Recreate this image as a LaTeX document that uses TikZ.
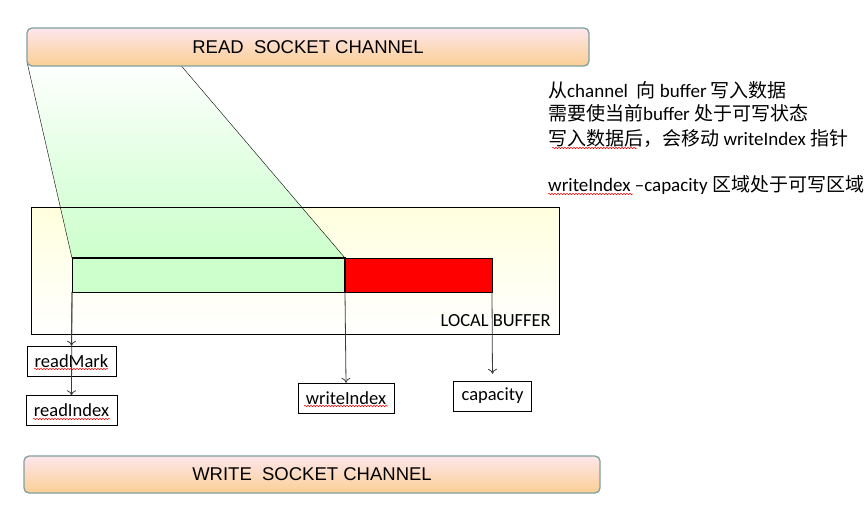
\documentclass[tikz,border=0pt]{standalone}
\usepackage{fontspec}
\setmainfont{Carlito}
\newfontfamily\arial{Liberation Sans}
\newfontfamily\cjk{Noto Sans CJK SC}
\newcommand{\zh}[1]{{\cjk #1}}
\usetikzlibrary{arrows.meta,decorations.pathmorphing}
\definecolor{chantop}{RGB}{254,230,236}
\definecolor{chanbot}{RGB}{250,207,148}
\definecolor{chanedge}{RGB}{128,160,160}
\definecolor{buffgreen}{RGB}{204,255,204}
\definecolor{buffyellow}{RGB}{255,255,222}
\definecolor{ptrgray}{RGB}{60,60,60}

\begin{document}
\begin{tikzpicture}[x=1pt,y=-1pt,
  chan/.style={draw=chanedge,line width=1.3pt,rounded corners=5pt,top color=chantop,bottom color=chanbot,inner sep=0pt,font=\arial\fontsize{18.5}{18.5}\selectfont},
  idx/.style={draw,inner xsep=8pt,inner ysep=0pt,minimum height=30pt,font=\fontsize{18.5}{18.5}\selectfont},
  note/.style={anchor=base west,inner sep=0pt,font=\fontsize{19}{19}\selectfont},
  ptr/.style={-{To[length=5pt,width=9pt]},draw=ptrgray,line width=0.8pt},
  squig/.style={red,line width=0.5pt,decorate,decoration={snake,amplitude=0.7pt,segment length=3pt}}]
	\useasboundingbox (0,0) rectangle (868,519);
	\shade[top color=buffyellow,bottom color=white] (31,207) rectangle (559,334);
	\shade[top color=white,bottom color=buffgreen,middle color=buffgreen!55] (27,62) -- (178,62) -- (345,258) -- (72,258) -- cycle;
	\draw (31,207) rectangle (559,334);
	\draw (27,62) -- (72,258);
	\draw (178,62) -- (345,258);
	\node[chan,minimum width=562pt,minimum height=38pt] (readch) at (308,47) {READ\ \ SOCKET CHANNEL};
	\node[chan,minimum width=576pt,minimum height=37pt] (writech) at (312,474.5) {WRITE\ \ SOCKET CHANNEL};
	\fill[buffgreen] (72,258) rectangle (345,292);
	\fill[red] (345,258) rectangle (492,292);
	\draw (72,292) -- (492,292) -- (492,258) -- (345,258);
	\draw[line width=1.6pt] (72,258) -- (345,258) -- (345,292);
	\draw (72,258) -- (72,292);
	\coordinate (rm) at (72,292);
	\coordinate (wi) at (345,292);
	\coordinate (cap) at (492,292);
	\node[anchor=base east,inner sep=0pt,font=\fontsize{18.5}{18.5}\selectfont] (localbuf) at (551,326) {LOCAL BUFFER};
	\node[idx] (readMark) at (71.5,361) {readMark};
	\node[idx] (readIndex) at (71.5,410.5) {readIndex};
	\node[idx] (writeIndex) at (346,398) {writeIndex};
	\node[idx] (capacity) at (492.5,396) {capacity};
	\draw[ptr] (rm) -- (readIndex.north);
	\draw[ptr] (rm) -- (readMark.north);
	\draw[ptr] (wi) -- (writeIndex.north);
	\draw[ptr,shorten >=7pt] (cap) -- (capacity.north);
	\node[note] (note1) at (548,98) {\zh{从}channel\ \ \zh{向} buffer \zh{写入数据}};
	\node[note] (note2) at (548,121) {\zh{需要使当前}buffer \zh{处于可写状态}};
	\node[note] (note3) at (548,145) {\zh{写入数据后，会移动} writeIndex \zh{指针}};
	\node[note] (note4) at (548,191) {writeIndex --capacity \zh{区域处于可写区域}};
	\draw[squig] (34,369) -- (108,369);
	\draw[squig] (33,419) -- (110,419);
	\draw[squig] (304,406) -- (388,406);
	\draw[squig] (552,148) -- (637,148);
	\draw[squig] (548,194) -- (633,194);
\end{tikzpicture}
\end{document}
